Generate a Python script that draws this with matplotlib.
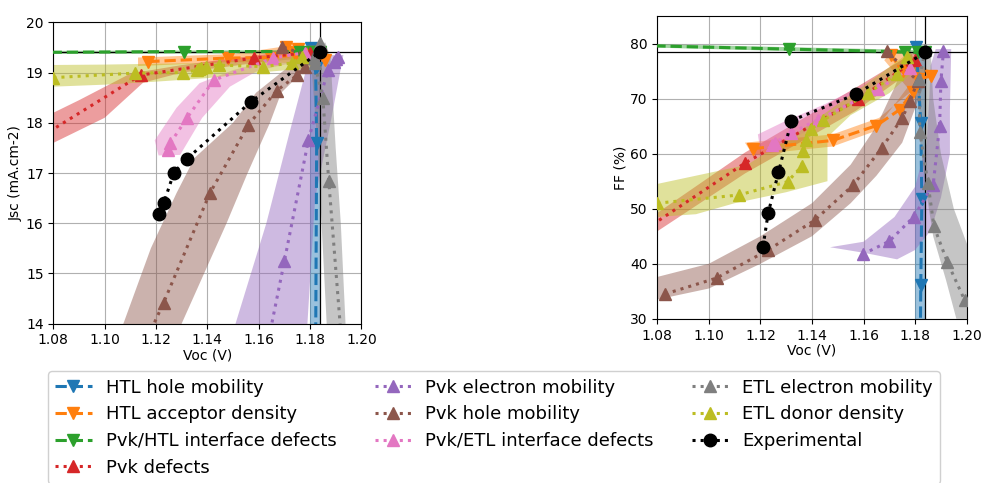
import matplotlib
matplotlib.use("Agg")
import matplotlib.pyplot as plt

# ---- data ----
names = ["HTL hole mobility", "HTL acceptor density", "Pvk/HTL interface defects",
         "Pvk defects", "Pvk electron mobility", "Pvk hole mobility",
         "Pvk/ETL interface defects", "ETL electron mobility", "ETL donor density",
         "Experimental"]

# HTL hole mobility
htl_mob_voc = [1.1805, 1.1822, 1.1826, 1.1822, 1.1820]
htl_mob_jsc = [19.50, 19.10, 17.60, 13.50, 11.00]
htl_mob_ff = [79.3, 65.5, 51.7, 36.2, 25.0]
htl_mob_band_jsc = ([1.1800, 1.1800, 1.1840, 1.1840], [19.50, 13.5, 13.5, 19.50])
htl_mob_band_ff = ([1.1800, 1.1800, 1.1843, 1.1843], [79.5, 28.0, 28.0, 79.5])

# HTL acceptor density
htl_acc_voc = [1.117, 1.148, 1.165, 1.174, 1.179, 1.181, 1.186, 1.1752, 1.1706]
htl_acc_jsc = [19.22, 19.29, 19.30, 19.35, 19.40, 19.42, 19.25, 19.48, 19.52]
htl_acc_ff = [60.9, 62.4, 65.1, 68.0, 71.2, 73.5, 74.1, 75.0, 77.9]
htl_acc_band_jsc = ([1.113, 1.150, 1.175, 1.187, 1.187, 1.150, 1.113],
                    [19.30, 19.37, 19.56, 19.45, 19.18, 19.21, 19.13])
htl_acc_band_ff = ([1.114, 1.148, 1.166, 1.179, 1.186, 1.172, 1.168, 1.177, 1.164, 1.148, 1.117],
                   [62.0, 63.5, 66.5, 71.5, 75.0, 79.0, 77.0, 72.0, 64.0, 61.3, 59.8])

# Pvk/HTL interface defects
pvk_htl_voc = [1.060, 1.131, 1.176, 1.181, 1.184]
pvk_htl_jsc = [19.40, 19.42, 19.42, 19.42, 19.42]
pvk_htl_ff = [79.8, 79.0, 78.5, 78.4, 78.4]
pvk_htl_band_jsc = ([1.060, 1.184, 1.184, 1.060], [19.43, 19.45, 19.39, 19.37])
pvk_htl_band_ff = ([1.060, 1.184, 1.184, 1.060], [80.1, 78.8, 78.0, 79.5])

# Pvk defects
pvk_def_voc = [1.065, 1.114, 1.158, 1.180]
pvk_def_jsc = [17.40, 18.95, 19.29, 19.40]
pvk_def_ff = [43.0, 58.3, 69.9, 77.0]
pvk_def_band_jsc = ([1.070, 1.090, 1.110, 1.130, 1.160, 1.180, 1.180, 1.160, 1.130, 1.115, 1.100, 1.080, 1.070],
                    [17.95, 18.45, 18.98, 19.15, 19.35, 19.45, 19.30, 19.20, 19.00, 18.80, 18.10, 17.60, 17.35])
pvk_def_band_ff = ([1.070, 1.114, 1.157, 1.180, 1.180, 1.157, 1.114, 1.070],
                   [46.0, 60.2, 72.0, 78.5, 75.5, 67.8, 56.4, 42.8])

# Pvk electron mobility
pvk_emob_voc = [1.1596, 1.1700, 1.1794, 1.1870, 1.1895, 1.1900, 1.1910]
pvk_emob_jsc = [12.60, 15.24, 17.66, 19.05, 19.22, 19.28, 19.32]
pvk_emob_ff = [41.7, 44.1, 48.5, 54.3, 65.1, 73.2, 78.7]
pvk_emob_band_jsc = ([1.148, 1.163, 1.172, 1.180, 1.193, 1.188, 1.182, 1.179, 1.178],
                     [13.5, 16.0, 17.8, 19.35, 19.35, 18.0, 16.5, 14.0, 13.5])
pvk_emob_band_ff = ([1.147, 1.160, 1.172, 1.180, 1.1845, 1.1855, 1.186, 1.188, 1.194, 1.1935,
                     1.1935, 1.190, 1.186, 1.180, 1.173, 1.160],
                    [43.0, 44.0, 48.5, 54.0, 62.0, 70.0, 76.0, 79.0, 79.0, 68.0,
                     60.0, 52.0, 46.0, 42.5, 40.8, 42.0])

# Pvk hole mobility
pvk_hmob_voc = [1.083, 1.103, 1.123, 1.141, 1.156, 1.167, 1.175, 1.178, 1.181, 1.169]
pvk_hmob_jsc = [10.00, 12.20, 14.42, 16.60, 17.96, 18.64, 18.95, 19.12, 19.30, 19.52]
pvk_hmob_ff = [34.5, 37.4, 42.5, 47.9, 54.3, 61.0, 66.5, 69.5, 73.2, 78.6]
pvk_hmob_band_jsc = ([1.100, 1.1073, 1.118, 1.128, 1.135, 1.150, 1.159, 1.170, 1.178,
                      1.183, 1.1768, 1.1688, 1.1644, 1.1557, 1.1475, 1.130, 1.125],
                     [13.0, 14.0, 15.5, 16.6, 17.3, 18.0, 18.6, 19.05, 19.4,
                      19.4, 19.0, 18.6, 18.0, 17.0, 16.0, 14.0, 13.0])
pvk_hmob_band_ff = ([1.075, 1.100, 1.120, 1.140, 1.155, 1.165, 1.172, 1.178,
                     1.183, 1.175, 1.165, 1.155, 1.140, 1.120, 1.100, 1.080, 1.075],
                    [37.0, 40.0, 45.0, 51.0, 58.0, 65.0, 72.0, 79.0,
                     72.0, 62.0, 56.0, 51.0, 45.0, 40.0, 35.5, 33.5, 33.5])

# Pvk/ETL interface defects
pvk_etl_voc = [1.1245, 1.1255, 1.1320, 1.1425, 1.1657, 1.1780]
pvk_etl_jsc = [17.45, 17.59, 18.09, 18.85, 19.29, 19.40]
pvk_etl_ff = [61.5, 62.0, 63.8, 66.2, 71.7, 75.5]
pvk_etl_band_jsc = ([1.1195, 1.128, 1.137, 1.150, 1.165, 1.175, 1.178, 1.165, 1.159, 1.1488,
                     1.138, 1.1294, 1.121],
                    [17.65, 18.30, 18.79, 19.05, 19.25, 19.40, 19.25, 19.10, 19.02, 18.72,
                     18.10, 17.36, 17.35])
pvk_etl_band_ff = ([1.119, 1.130, 1.145, 1.160, 1.175, 1.175, 1.160, 1.145, 1.130, 1.120],
                   [63.5, 66.0, 69.0, 72.5, 76.0, 74.0, 70.0, 66.0, 62.0, 60.5])

# ETL electron mobility
etl_mob_voc = [1.1840, 1.1815, 1.1818, 1.1850, 1.1873, 1.1925, 1.1992]
etl_mob_jsc = [19.59, 19.30, 19.19, 18.50, 16.85, 13.50, 10.00]
etl_mob_ff = [78.8, 73.5, 64.0, 54.6, 46.8, 40.3, 33.4]
etl_mob_band_jsc = ([1.180, 1.183, 1.187, 1.1943, 1.192, 1.190, 1.188, 1.186],
                    [19.5, 17.5, 13.5, 13.5, 16.0, 17.5, 19.3, 19.6])
etl_mob_band_ff = ([1.180, 1.1815, 1.182, 1.184, 1.187, 1.192, 1.196, 1.205,
                    1.203, 1.195, 1.190, 1.187, 1.186],
                   [79.0, 70.0, 62.0, 54.0, 45.0, 37.0, 30.0, 30.0,
                    40.0, 50.0, 60.0, 70.0, 79.0])

# ETL donor density
etl_don_voc = [1.0800, 1.1117, 1.1305, 1.1360, 1.1366, 1.1375, 1.1395, 1.1444, 1.1618, 1.1729, 1.1768]
etl_don_jsc = [18.90, 18.99, 19.00, 19.05, 19.08, 19.10, 19.12, 19.15, 19.12, 19.19, 19.32]
etl_don_ff = [51.0, 52.5, 54.9, 57.7, 60.4, 62.5, 64.4, 66.1, 71.0, 74.5, 77.5]
etl_don_band_jsc = ([1.075, 1.100, 1.137, 1.160, 1.182, 1.182, 1.160, 1.140, 1.120, 1.100, 1.075],
                    [19.15, 19.16, 19.19, 19.27, 19.40, 19.10, 19.00, 18.89, 18.82, 18.76, 18.71])
etl_don_band_ff = ([1.075, 1.100, 1.115, 1.125, 1.135, 1.150, 1.165, 1.178, 1.182, 1.170, 1.155,
                    1.146, 1.146, 1.130, 1.110, 1.095, 1.080, 1.075],
                   [54.0, 56.5, 58.0, 61.0, 64.0, 69.0, 74.0, 78.5, 76.0, 71.0, 67.0,
                    63.0, 55.0, 53.0, 51.0, 49.0, 48.5, 48.5])

# Experimental
exp_voc = [1.121, 1.123, 1.127, 1.132, 1.157, 1.184]
exp_jsc = [16.18, 16.40, 17.01, 17.28, 18.42, 19.42]
exp_ff = [43.1, 49.2, 56.6, 66.0, 70.8, 78.4]

# experimental reference (champion) values
ref_voc = 1.184
ref_jsc = 19.42
ref_ff = 78.4

colors = ["tab:blue", "tab:orange", "tab:green", "tab:red", "tab:purple",
          "tab:brown", "tab:pink", "tab:gray", "tab:olive", "black"]
markers = ["v", "v", "v", "^", "^", "^", "^", "^", "^", "o"]
styles = ["--", "--", "--", ":", ":", ":", ":", ":", ":", ":"]

series = [
    (htl_mob_voc, htl_mob_jsc, htl_mob_ff, htl_mob_band_jsc, htl_mob_band_ff),
    (htl_acc_voc, htl_acc_jsc, htl_acc_ff, htl_acc_band_jsc, htl_acc_band_ff),
    (pvk_htl_voc, pvk_htl_jsc, pvk_htl_ff, pvk_htl_band_jsc, pvk_htl_band_ff),
    (pvk_def_voc, pvk_def_jsc, pvk_def_ff, pvk_def_band_jsc, pvk_def_band_ff),
    (pvk_emob_voc, pvk_emob_jsc, pvk_emob_ff, pvk_emob_band_jsc, pvk_emob_band_ff),
    (pvk_hmob_voc, pvk_hmob_jsc, pvk_hmob_ff, pvk_hmob_band_jsc, pvk_hmob_band_ff),
    (pvk_etl_voc, pvk_etl_jsc, pvk_etl_ff, pvk_etl_band_jsc, pvk_etl_band_ff),
    (etl_mob_voc, etl_mob_jsc, etl_mob_ff, etl_mob_band_jsc, etl_mob_band_ff),
    (etl_don_voc, etl_don_jsc, etl_don_ff, etl_don_band_jsc, etl_don_band_ff),
    (exp_voc, exp_jsc, exp_ff, None, None),
]

fig = plt.figure(figsize=(9.84, 4.83), dpi=100)
ax1 = fig.add_axes([0.0542, 0.330, 0.313, 0.6236])
ax2 = fig.add_axes([0.668, 0.340, 0.3144, 0.6267])

handles = []
for i, (voc, jsc, ff, bj, bf) in enumerate(series):
    c = colors[i]
    z = 4 if i == 9 else 3
    ms = 9 if i == 9 else 8
    if bj is not None:
        ax1.fill(bj[0], bj[1], color=c, alpha=0.45, lw=0, zorder=1)
        ax2.fill(bf[0], bf[1], color=c, alpha=0.45, lw=0, zorder=1)
    h, = ax1.plot(voc, jsc, ls=styles[i], marker=markers[i], color=c, lw=2.2, ms=ms, zorder=z)
    ax2.plot(voc, ff, ls=styles[i], marker=markers[i], color=c, lw=2.2, ms=ms, zorder=z)
    handles.append(h)

for ax, ref, ylab, ylim, yt in [(ax1, ref_jsc, "Jsc (mA.cm-2)", (14, 20), range(14, 21)),
                                (ax2, ref_ff, "FF (%)", (30, 85), range(30, 81, 10))]:
    ax.axvline(ref_voc, color="black", lw=0.9, zorder=2)
    ax.axhline(ref, color="black", lw=0.9, zorder=2)
    ax.set_xlim(1.08, 1.20)
    ax.set_ylim(*ylim)
    ax.set_yticks(list(yt))
    ax.set_xticks([1.08, 1.10, 1.12, 1.14, 1.16, 1.18, 1.20])
    ax.set_xticklabels(["1.08", "1.10", "1.12", "1.14", "1.16", "1.18", "1.20"])
    ax.grid(True, color="#b0b0b0", lw=0.8, zorder=0)
    ax.set_axisbelow(True)
    ax.tick_params(labelsize=10)
    ax.set_xlabel("Voc (V)", fontsize=10, labelpad=1)
    ax.set_ylabel(ylab, fontsize=10, labelpad=2)

fig.legend(handles, names, ncol=3, loc="upper left", bbox_to_anchor=(0.049, 0.231),
           borderaxespad=0, fontsize=13, labelspacing=0.48, handlelength=2.0,
           columnspacing=2.1, framealpha=1, edgecolor="#d0d0d0")

fig.savefig("out.png", dpi=100)
